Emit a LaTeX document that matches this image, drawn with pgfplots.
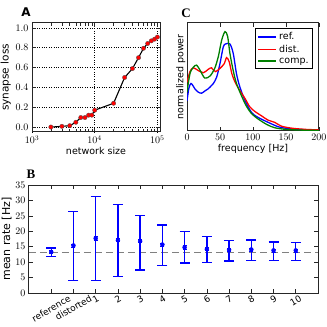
\documentclass[border=0pt]{standalone}
\usepackage{fontspec}
\setmainfont{DejaVu Sans}
\newfontfamily\serifb{Liberation Serif}
\usepackage{graphicx}
\usepackage{pgfplots}
\pgfplotsset{compat=1.18}
\definecolor{dgreen}{rgb}{0,0.5,0}
\begin{document}
\begin{tikzpicture}[x=1pt,y=1pt]
\useasboundingbox (0,0) rectangle (327,327);
\pgfplotsset{
  every axis/.append style={
    scale only axis,
    axis line style={line width=1pt, black!85},
    tick align=inside,
    tick style={black!85, line width=0.6pt},
    tick label style={font=\fontsize{10}{10}\selectfont},
    label style={font=\fontsize{9.5}{10}\selectfont},
  }
}
% ---------------- A ----------------
\begin{axis}[at={(32pt,195pt)}, anchor=south west, width=128pt, height=109pt,
  xmode=log, xmin=1000, xmax=1.1e5, ymin=-0.05, ymax=1.05,
  xtick={1000,10000,100000}, ytick={0,0.2,0.4,0.6,0.8,1.0},
  yticklabel style={/pgf/number format/.cd, fixed, fixed zerofill, precision=1},
  xtick pos=both, ytick pos=both,
  grid=major, major grid style={black, dotted, line width=0.6pt},
  xlabel={network size}, ylabel={synapse loss},
  xlabel style={yshift=3pt}, ylabel style={yshift=-2pt, font=\fontsize{10.5}{11}\selectfont},
]
\addplot[black, line width=1.1pt, mark=*, mark size=2.2pt,
  mark options={fill=red, draw=black!70, line width=0.3pt}] coordinates {
(2000,0.0) (3000,0.007) (4000,0.014) (5000,0.048) (6000,0.096) (7000,0.096)
(8000,0.12) (9000,0.12) (10000,0.17) (20000,0.24) (30000,0.50) (40000,0.59)
(50000,0.70) (60000,0.795) (70000,0.843) (80000,0.87) (90000,0.887) (100000,0.908)
};
\end{axis}
% ---------------- C ----------------
\begin{axis}[at={(187pt,196pt)}, anchor=south west, width=132pt, height=108pt,
  xmin=0, xmax=200, ymin=0, ymax=1,
  xtick={0,50,100,150,200}, ytick=\empty, xtick pos=both,
  xlabel={frequency [Hz]}, ylabel={normalized power},
  xlabel style={yshift=4pt}, ylabel style={yshift=-2pt},
  legend style={at={(0.955,0.955)}, anchor=north east, draw=black, line width=1pt,
    font=\fontsize{9.5}{10}\selectfont, cells={anchor=west}, row sep=0pt,
    inner xsep=2pt, inner ysep=2pt},
  legend image code/.code={\draw[#1, line width=1.6pt] (0pt,0pt) -- (18pt,0pt);},
]
\addplot[blue, line width=1.3pt, smooth, tension=0.5] coordinates {
(0,0.28) (3,0.40) (6,0.44) (9,0.42) (12,0.39) (17,0.36) (22,0.35) (27,0.37) (32,0.39)
(37,0.42) (40,0.44) (45,0.50) (50,0.625) (55,0.78) (58.6,0.806) (65,0.806) (70,0.72)
(75,0.53) (80,0.41) (88,0.28) (98,0.17) (108,0.125) (123,0.08) (138,0.04) (150,0.025)
(175,0.013) (200,0.01)
};
\addplot[red, line width=1.3pt, smooth, tension=0.5] coordinates {
(0,0.45) (4.5,0.55) (9.6,0.585) (17,0.56) (25,0.54) (32,0.57) (37,0.585) (43,0.55)
(50,0.58) (56.6,0.625) (60,0.68) (64,0.64) (68,0.53) (73,0.45) (80,0.375) (88,0.30)
(95,0.225) (103,0.18) (113,0.14) (123,0.10) (133,0.08) (143,0.045) (160,0.025)
(180,0.015) (200,0.01)
};
\addplot[dgreen, line width=1.3pt, smooth, tension=0.5] coordinates {
(0,0.36) (4.5,0.53) (9.6,0.59) (14.6,0.61) (20,0.56) (27,0.49) (35,0.51) (42,0.58)
(47.5,0.69) (52.5,0.84) (57.6,0.92) (61.6,0.875) (65,0.72) (70,0.56) (75,0.44)
(83,0.32) (90,0.23) (98,0.16) (108,0.11) (121,0.06) (133,0.03) (150,0.015)
(175,0.008) (200,0.005)
};
\legend{ref., dist., comp.}
\end{axis}
% ---------------- B ----------------
\begin{axis}[at={(29pt,34pt)}, anchor=south west, width=289pt, height=108pt,
  xmin=-1, xmax=12, ymin=0, ymax=35,
  xtick={0,1,2,3,4,5,6,7,8,9,10,11},
  xticklabels={\rotatebox{30}{reference},\rotatebox{30}{distorted},\rotatebox{30}{1},
    \rotatebox{30}{2},\rotatebox{30}{3},\rotatebox{30}{4},\rotatebox{30}{5},\rotatebox{30}{6},
    \rotatebox{30}{7},\rotatebox{30}{8},\rotatebox{30}{9},\rotatebox{30}{10}},
  xticklabel style={anchor=north, font=\fontsize{9}{9}\selectfont, inner sep=0.5pt, yshift=-1pt},
  ytick={0,5,10,15,20,25,30,35},
  xtick pos=both, ytick pos=both,
  ylabel={mean rate [Hz]}, ylabel style={yshift=-3pt, font=\fontsize{11}{11}\selectfont},
]
\addplot[gray, line width=1pt, dash pattern=on 7pt off 4pt] coordinates {(-1,13.2) (12,13.2)};
\addplot[blue, only marks, mark=none,
  error bars/.cd, y dir=both, y explicit,
  error bar style={blue, line width=1.4pt},
  error mark options={blue, mark size=5pt, line width=1.4pt, rotate=90}] coordinates {
(0,13.3) += (0,1.3) -= (0,1.4)
(1,15.4) += (0,11.1) -= (0,11.3)
(2,17.7) += (0,13.5) -= (0,13.7)
(3,17.1) += (0,11.6) -= (0,11.7)
(4,16.8) += (0,8.4) -= (0,9.3)
(5,15.7) += (0,6.3) -= (0,6.8)
(6,14.8) += (0,5.1) -= (0,5.05)
(7,14.2) += (0,4.2) -= (0,4.3)
(8,14.0) += (0,3.1) -= (0,3.6)
(9,14.1) += (0,3.1) -= (0,3.5)
(10,13.8) += (0,2.7) -= (0,3.2)
(11,13.8) += (0,2.5) -= (0,3.2)
};
\addplot[blue, only marks, mark=x, mark size=1.8pt, mark options={line width=0.7pt},
  error bars/.cd, y dir=both, y explicit,
  error bar style={blue, line width=0.7pt},
  error mark options={blue, mark size=2pt, line width=0.7pt, rotate=90}] coordinates {
(0,13.3) +- (0,0.5)
(1,15.4) +- (0,0.5)
(2,17.7) +- (0,0.5)
(3,17.1) +- (0,0.5)
(4,16.8) +- (0,0.5)
(5,15.7) +- (0,0.5)
(6,14.8) +- (0,0.5)
(7,14.2) +- (0,0.5)
(8,14.0) +- (0,0.5)
(9,14.1) +- (0,0.5)
(10,13.8) +- (0,0.5)
(11,13.8) +- (0,0.5)
};
\end{axis}
% panel letters
\node[font=\bfseries\fontsize{12}{12}\selectfont] at (26,315) {A};
\node[font=\serifb\bfseries\fontsize{13}{13}\selectfont] at (186,314) {C};
\node[font=\serifb\bfseries\fontsize{13}{13}\selectfont] at (31,153) {B};
\end{tikzpicture}
\end{document}
